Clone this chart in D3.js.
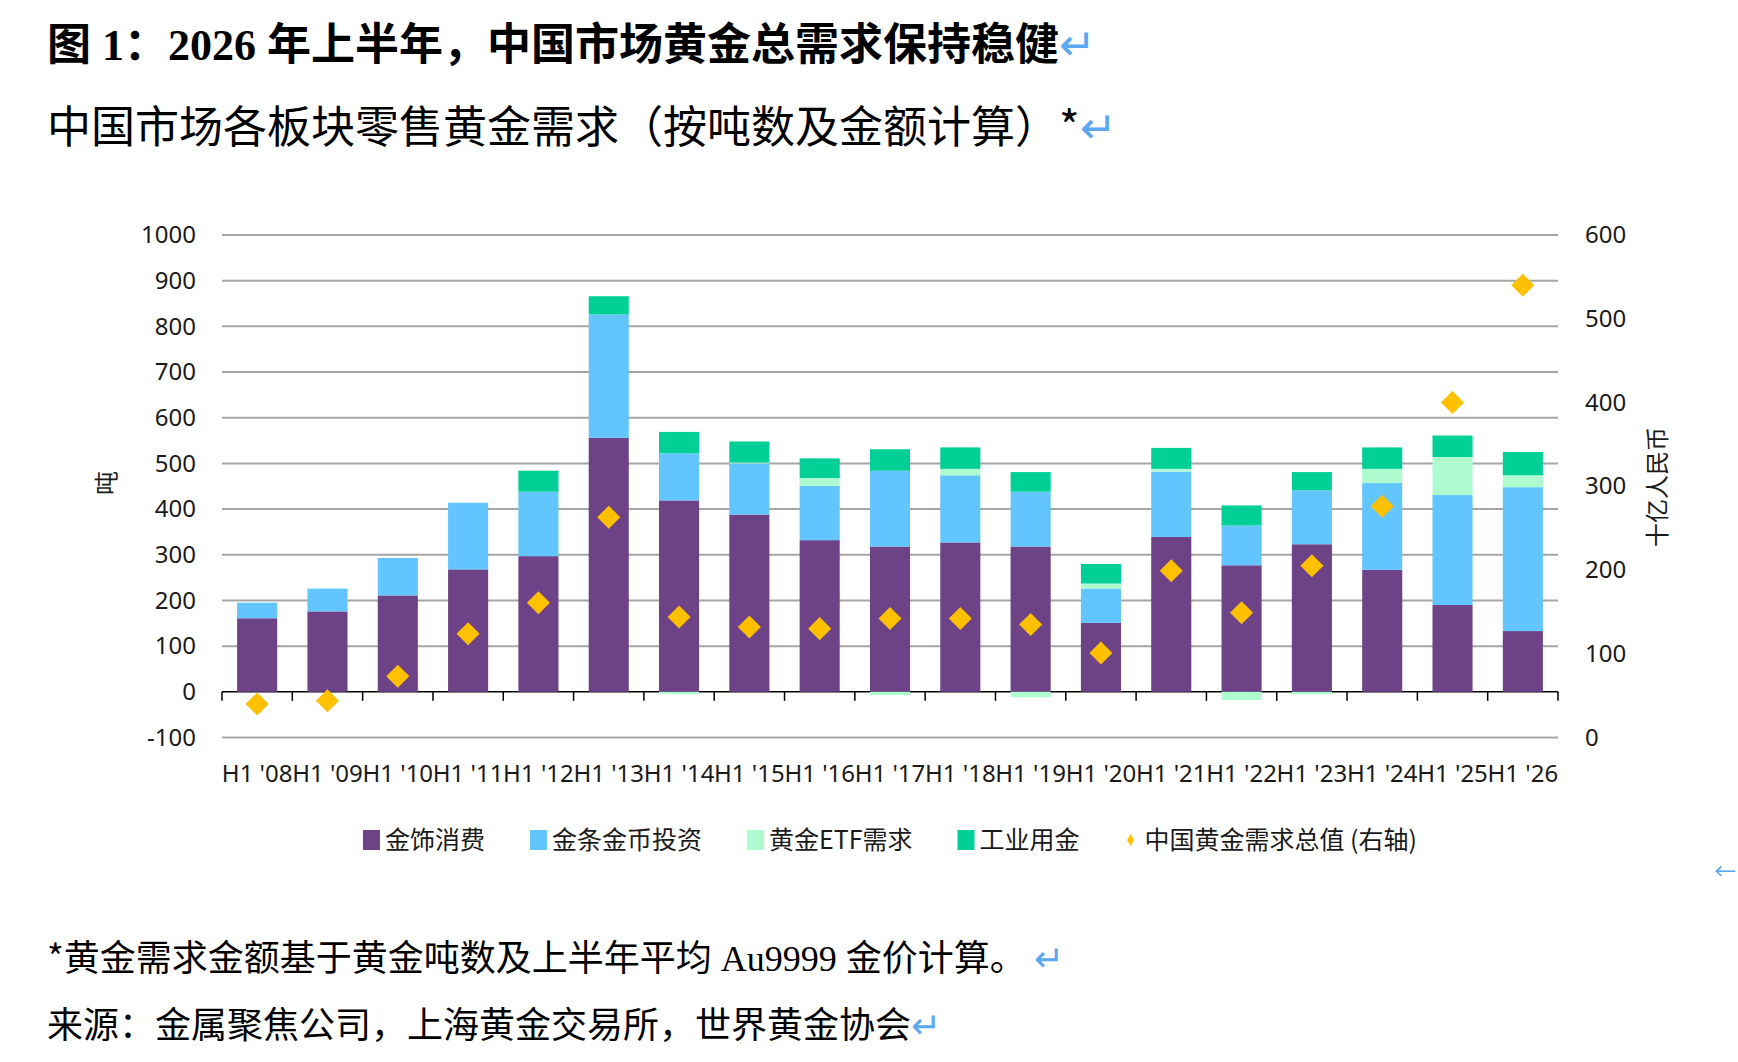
<!DOCTYPE html>
<html>
<head>
<meta charset="utf-8">
<script src="https://cdn.jsdelivr.net/npm/d3@7"></script>
<style>
  body { margin: 0; background: #fff; }
  svg { display: block; }
</style>
</head>
<body>
<svg id="chart" width="1738" height="1062"></svg>
<script>
// 数据：中国市场各板块零售黄金需求（吨），总值（十亿人民币）
const periods = ["H1 '08", "H1 '09", "H1 '10", "H1 '11", "H1 '12", "H1 '13", "H1 '14", "H1 '15", "H1 '16", "H1 '17",
                 "H1 '18", "H1 '19", "H1 '20", "H1 '21", "H1 '22", "H1 '23", "H1 '24", "H1 '25", "H1 '26"];
const jewellery  = [161, 176, 211, 268, 297, 556, 419, 388, 332, 318, 327, 318, 151, 339, 277, 323, 267, 190, 133];
const barCoin    = [34, 50, 82, 146, 141, 270, 103, 112, 119, 166, 147, 120, 75, 143, 87, 118, 190, 241, 315];
const etf        = [0, 0, 0, 0, 0, 0, -5, 2, 17, -7, 14, -12, 11, 6, -18, -5, 31, 83, 26];
const industrial = [0, 0, 0, 0, 46, 40, 47, 46, 43, 47, 47, 43, 43, 46, 44, 40, 47, 47, 51];
const totalValue = [40, 44, 73, 124, 161, 263, 144, 132, 130, 142, 142, 135, 101, 199, 149, 205, 276, 400, 540];

const leftTicks  = [-100, 0, 100, 200, 300, 400, 500, 600, 700, 800, 900, 1000];
const rightTicks = [0, 100, 200, 300, 400, 500, 600];

const seriesKeys   = ["jewellery", "barCoin", "etf", "industrial"];
const seriesNames  = ["金饰消费", "金条金币投资", "黄金ETF需求", "工业用金"];
const seriesColors = ["#6E4287", "#63C5FE", "#AEFBD0", "#00D096"];
const totalName  = "中国黄金需求总值 (右轴)";
const totalColor = "#FFC000";

const cjk = "'Noto Sans CJK SC', 'Noto Sans', sans-serif";
const latin = "'Noto Sans', 'Noto Sans CJK SC', sans-serif";
const serifMix = "'Liberation Serif', 'Noto Sans CJK SC', serif";
const markColor = "#5BA8F2";

const svg = d3.select("#chart");

// 标题、脚注
function addLine(x, y, size, weight, family, parts) {
  const t = svg.append("text")
    .attr("x", x).attr("y", y)
    .attr("font-size", size)
    .attr("font-weight", weight)
    .attr("font-family", family)
    .attr("fill", "#000");
  parts.forEach(function (p) {
    const s = t.append("tspan").text(p.text);
    if (p.mark) s.attr("fill", markColor).attr("font-weight", "normal").attr("font-family", cjk);
    if (p.family) s.attr("font-family", p.family);
  });
  return t;
}
addLine(47, 60, 44, "bold", serifMix, [
  { text: "图 1：2026 年上半年，中国市场黄金总需求保持稳健" },
  { text: "↵", mark: true }
]);
addLine(47, 143, 44, "normal", cjk, [
  { text: "中国市场各板块零售黄金需求（按吨数及金额计算）*" },
  { text: "↵", mark: true }
]);
addLine(47, 971, 36, "normal", cjk, [
  { text: "*黄金需求金额基于黄金吨数及上半年平均" },
  { text: " Au9999 ", family: "'Liberation Serif', serif" },
  { text: "金价计算。" },
  { text: " ↵", mark: true }
]);
addLine(47, 1038, 36, "normal", cjk, [
  { text: "来源：金属聚焦公司，上海黄金交易所，世界黄金协会" },
  { text: "↵", mark: true }
]);
svg.append("text")
  .attr("x", 1714).attr("y", 879)
  .attr("font-size", 22).attr("font-family", cjk)
  .attr("fill", markColor)
  .text("←");

// 比例尺
const plotLeft = 222, plotRight = 1558;
const pad = 0.43;
const x = d3.scaleBand().domain(periods).range([plotLeft, plotRight])
  .paddingInner(pad).paddingOuter(pad / 2);
const y = d3.scaleLinear().domain([-100, 1000]).range([737.5, 235]);
const yR = d3.scaleLinear().domain([0, 600]).range([737.5, 235]);

// 网格线
svg.append("g").selectAll("line")
  .data(leftTicks.filter(function (d) { return d !== 0; }))
  .enter().append("line")
  .attr("x1", plotLeft).attr("x2", plotRight)
  .attr("y1", function (d) { return y(d); })
  .attr("y2", function (d) { return y(d); })
  .attr("stroke", "#A6A6A6")
  .attr("stroke-width", 2);

// 坐标轴文字
const plain = function (d) { return String(d); };
const leftAxis = svg.append("g")
  .attr("transform", "translate(196,0)")
  .call(d3.axisLeft(y).tickValues(leftTicks).tickFormat(plain).tickSize(0).tickPadding(0));
const rightAxis = svg.append("g")
  .attr("transform", "translate(1585,0)")
  .call(d3.axisRight(yR).tickValues(rightTicks).tickFormat(plain).tickSize(0).tickPadding(0));
const bottomAxis = svg.append("g")
  .attr("transform", "translate(0,765)")
  .call(d3.axisBottom(x).tickSize(0).tickPadding(0));
[leftAxis, rightAxis, bottomAxis].forEach(function (g) {
  g.select(".domain").remove();
  g.attr("font-family", latin).attr("font-size", 24).attr("color", "#1a1a1a");
});

svg.append("text")
  .attr("transform", "translate(107,483) rotate(-90)")
  .attr("text-anchor", "middle").attr("dy", "0.35em")
  .attr("font-family", cjk).attr("font-size", 24).attr("fill", "#1a1a1a")
  .text("吨");
svg.append("text")
  .attr("transform", "translate(1658,487) rotate(-90)")
  .attr("text-anchor", "middle").attr("dy", "0.35em")
  .attr("font-family", cjk).attr("font-size", 24).attr("fill", "#1a1a1a")
  .text("十亿人民币");

// 零轴及分隔刻度
const step = x.step();
const boundaries = periods.map(function (p) { return x(p) - (step - x.bandwidth()) / 2; })
  .concat([plotRight]);
svg.append("line")
  .attr("x1", plotLeft).attr("x2", plotRight)
  .attr("y1", y(0)).attr("y2", y(0))
  .attr("stroke", "#000").attr("stroke-width", 1.5);
svg.append("g").selectAll("line")
  .data(boundaries)
  .enter().append("line")
  .attr("x1", function (d) { return d; }).attr("x2", function (d) { return d; })
  .attr("y1", y(0)).attr("y2", y(0) + 9)
  .attr("stroke", "#000").attr("stroke-width", 1.5);

// 堆叠柱
const rows = periods.map(function (p, i) {
  return { period: p, jewellery: jewellery[i], barCoin: barCoin[i], etf: etf[i], industrial: industrial[i] };
});
const stacked = d3.stack().keys(seriesKeys).offset(d3.stackOffsetDiverging)(rows);
const color = d3.scaleOrdinal().domain(seriesKeys).range(seriesColors);

svg.append("g").selectAll("g")
  .data(stacked)
  .enter().append("g")
  .attr("fill", function (d) { return color(d.key); })
  .selectAll("rect")
  .data(function (d) { return d.filter(function (s) { return s[1] !== s[0]; }); })
  .enter().append("rect")
  .attr("x", function (d) { return x(d.data.period); })
  .attr("width", x.bandwidth())
  .attr("y", function (d) { return y(Math.max(d[0], d[1])); })
  .attr("height", function (d) { return Math.abs(y(d[0]) - y(d[1])); });

// 总值菱形（右轴）
svg.append("g").selectAll("path")
  .data(totalValue)
  .enter().append("path")
  .attr("d", d3.symbol(d3.symbolSquare, 265)())
  .attr("transform", function (d, i) {
    return "translate(" + (x(periods[i]) + x.bandwidth() / 2) + "," + yR(d) + ") rotate(45)";
  })
  .attr("fill", totalColor);

// 图例
const legend = svg.append("g").attr("font-family", cjk).attr("font-size", 25).attr("fill", "#1a1a1a");
const legendItems = seriesNames.map(function (n, i) { return { name: n, color: seriesColors[i], type: "rect" }; })
  .concat([{ name: totalName, color: totalColor, type: "diamond" }]);
const legendGap = 45;
let lx = 0;
const legendY = 840;
legendItems.forEach(function (item) {
  const g = legend.append("g").attr("transform", "translate(" + lx + ",0)");
  if (item.type === "rect") {
    g.append("rect").attr("x", 0).attr("y", legendY - 10).attr("width", 17).attr("height", 20).attr("fill", item.color);
  } else {
    g.append("path").attr("d", d3.symbol(d3.symbolDiamond, 42)())
      .attr("transform", "translate(6," + legendY + ")").attr("fill", item.color);
  }
  const txt = g.append("text").attr("x", item.type === "rect" ? 22 : 20).attr("y", legendY).attr("dy", "0.36em").text(item.name);
  lx += (item.type === "rect" ? 22 : 20) + txt.node().getComputedTextLength() + legendGap;
});
const legendWidth = lx - legendGap;
legend.attr("transform", "translate(" + ((plotLeft + plotRight) / 2 - legendWidth / 2) + ",0)");
</script>
</body>
</html>
